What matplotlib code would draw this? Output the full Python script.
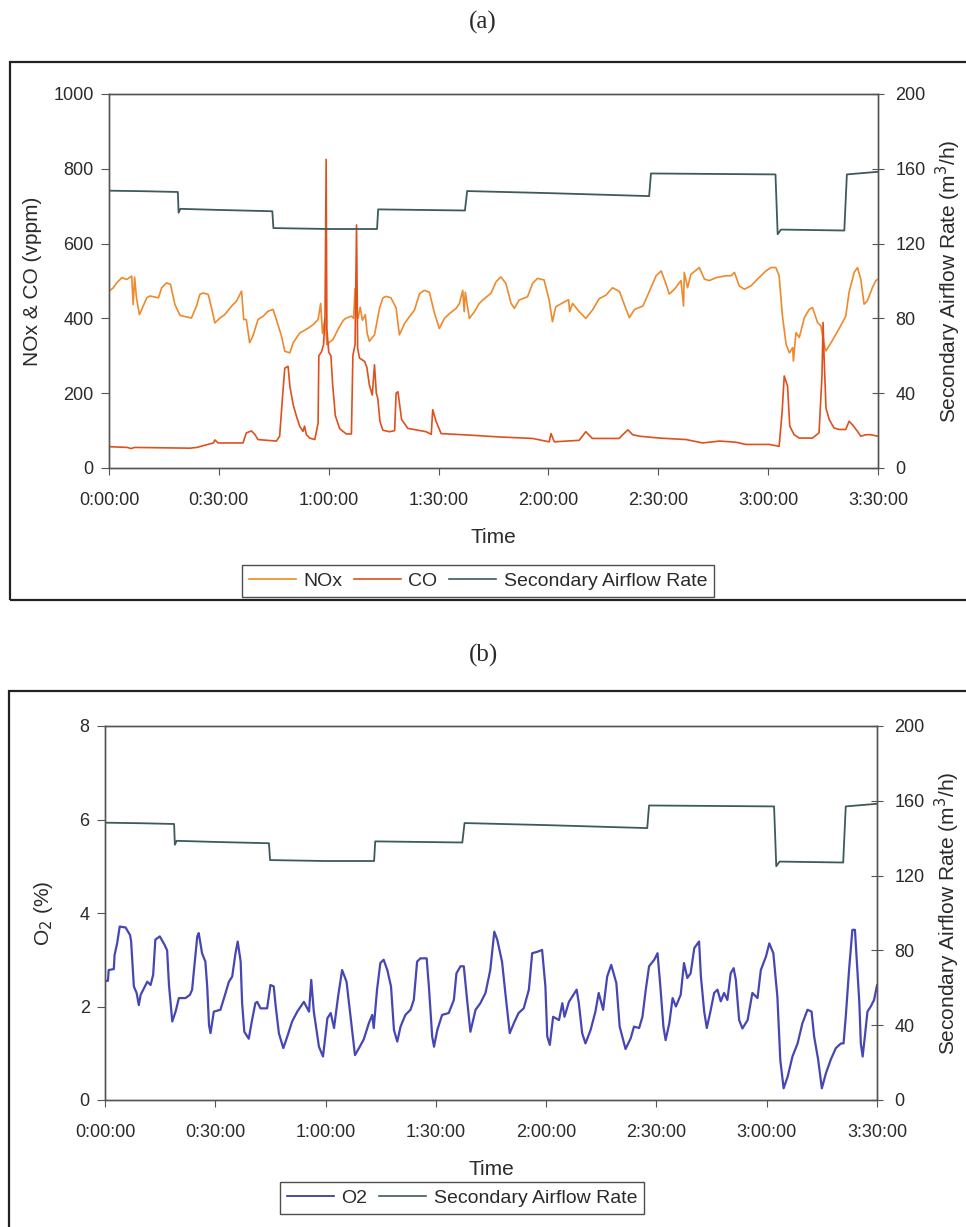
import numpy as np
import matplotlib
matplotlib.use("Agg")
import matplotlib.pyplot as plt
from matplotlib.patches import Rectangle
from matplotlib.lines import Line2D

plt.rcParams['font.family'] = ['Liberation Sans', 'DejaVu Sans']

# time in minutes from start
nox = [(0, 473), (1.2, 482), (2.1, 495), (3.5, 509), (4.8, 504), (6.2, 513), (6.6, 437), (7.0, 510),
       (7.5, 455), (8.3, 410), (8.9, 423), (10.3, 455), (11.2, 460), (13.5, 455), (14.4, 482), (15.7, 495),
       (16.8, 491), (18.0, 437), (19.4, 408), (21.2, 404), (22.5, 401), (23.9, 433), (24.8, 464), (25.7, 468),
       (27.1, 464), (28.0, 428), (28.9, 388), (30.3, 401), (31.6, 410), (33.5, 433), (34.8, 446), (36.2, 473),
       (36.8, 397), (37.5, 397), (38.4, 335), (39.3, 353), (40.7, 397), (42.1, 406), (43.4, 419), (44.8, 424),
       (45.7, 397), (47.1, 353), (48.0, 312), (49.4, 308), (50.3, 335), (52.1, 361), (54.4, 374), (55.7, 383),
       (57.1, 397), (57.8, 440), (58.3, 360), (59.0, 400), (59.5, 330), (60.3, 337), (61.2, 344), (62.5, 370),
       (64.0, 395), (64.8, 401), (66.2, 406), (66.8, 400), (67.2, 480), (67.5, 420), (68.0, 400), (68.6, 430),
       (69.2, 395), (70.0, 410), (70.5, 360), (71.1, 339), (72.5, 356), (73.9, 428), (74.8, 455), (75.7, 459),
       (77.0, 455), (78.4, 428), (79.3, 356), (80.7, 386), (82.0, 404), (83.4, 422), (84.8, 466), (86.1, 475),
       (87.5, 470), (88.9, 413), (90.2, 373), (91.6, 400), (93.0, 413), (94.8, 427), (95.7, 440), (96.6, 475),
       (97.0, 418), (97.3, 470), (98.4, 400), (99.8, 418), (101.1, 440), (102.5, 453), (104.3, 467), (105.7, 498),
       (107.0, 511), (108.4, 493), (109.8, 440), (110.7, 427), (112.0, 449), (114.3, 458), (115.7, 494),
       (117.0, 507), (118.8, 503), (120.2, 449), (121.1, 391), (122.0, 431), (124.3, 444), (125.5, 450),
       (125.8, 418), (126.6, 440), (128.4, 418), (130.2, 400), (132.0, 422), (133.9, 453), (135.7, 462),
       (137.5, 482), (139.4, 472), (140.8, 435), (142.1, 402), (143.5, 424), (145.8, 433), (147.6, 473),
       (149.4, 514), (150.8, 527), (152.1, 492), (153.0, 465), (154.4, 478), (156.2, 501), (156.9, 433),
       (157.1, 523), (158.0, 482), (158.9, 518), (161.2, 536), (162.6, 505), (163.9, 501), (165.8, 509),
       (168.5, 514), (169.9, 514), (170.8, 523), (172.1, 487), (173.5, 478), (175.3, 487), (177.1, 505),
       (179.4, 527), (180.8, 536), (182.1, 536), (183.0, 514), (183.9, 407), (184.9, 331), (185.8, 308),
       (186.7, 322), (186.9, 286), (187.6, 362), (188.5, 349), (189.9, 402), (191.2, 424), (192.1, 429),
       (193.5, 389), (194.4, 380), (195.3, 330), (195.8, 313), (197.6, 342), (199.4, 373), (201.2, 406),
       (202.1, 470), (203.5, 523), (204.4, 536), (205.3, 505), (206.2, 438), (207.1, 447), (208.5, 483),
       (209.4, 501), (210, 505)]

co = [(0, 57), (5, 55), (6, 52), (7, 55), (22.1, 53), (24, 55), (28.5, 67), (28.9, 75), (29.8, 67),
      (36.6, 67), (37.5, 94), (38.9, 99), (39.8, 90), (40.7, 76), (45.7, 72), (46.6, 85), (47.4, 192),
      (48.0, 267), (48.9, 272), (49.4, 218), (50.3, 169), (51.2, 138), (52.1, 111), (53.0, 98), (53.4, 112),
      (53.9, 89), (54.8, 80), (56.2, 76), (57.1, 120), (57.3, 300), (58.0, 310), (58.6, 330), (59.0, 410),
      (59.3, 825), (59.5, 372), (60.0, 310), (60.6, 300), (61.1, 220), (61.5, 175), (61.8, 140), (63.0, 105),
      (64.8, 91), (66.2, 91), (66.6, 301), (67.2, 330), (67.6, 650), (67.9, 320), (68.4, 294), (69.8, 285),
      (70.4, 270), (71.1, 222), (71.9, 195), (72.5, 276), (73.0, 200), (73.4, 186), (74.0, 124), (74.8, 101),
      (76.6, 97), (78.0, 100), (78.4, 200), (78.9, 204), (79.9, 130), (81.6, 106), (86.6, 97), (88.0, 90),
      (88.4, 156), (89.3, 125), (90.7, 92), (98.4, 88), (106.6, 83), (115.7, 79), (120.2, 70), (120.7, 92),
      (121.6, 70), (128.4, 74), (130.2, 97), (132.0, 79), (139.3, 79), (140.3, 89), (141.7, 102), (143.0, 89),
      (144.9, 85), (150.3, 80), (157.6, 76), (162.1, 67), (166.7, 72), (171.2, 69), (173.9, 63), (180.3, 63),
      (183.0, 58), (183.8, 147), (184.4, 246), (185.3, 219), (185.9, 112), (187.1, 89), (188.5, 80),
      (192.1, 80), (193.9, 94), (194.7, 246), (195.0, 389), (195.3, 290), (195.8, 160), (196.7, 129),
      (198.0, 107), (199.4, 103), (201.2, 103), (202.1, 125), (203.0, 116), (204.4, 98), (205.3, 85),
      (206.7, 89), (208.0, 89), (210, 85)]

airflow = [(0, 148.3), (10, 148), (18.8, 147.6), (19.0, 136.5), (19.5, 138.6), (30, 138), (44.6, 137.3),
           (44.9, 128.3), (60, 127.8), (73.2, 127.8), (73.5, 138.3), (97.2, 137.7), (97.8, 148.1),
           (120, 147), (147.5, 145.4), (148, 157.5), (182, 157), (182.6, 125), (183.5, 127.5),
           (200.8, 127), (201.5, 157), (210, 158.4)]

o2 = [(0, 2.55), (0.8, 2.55), (1.0, 2.78), (2.4, 2.8), (2.6, 3.1), (3.3, 3.35), (4.0, 3.71), (5.6, 3.69),
      (6.8, 3.53), (7.1, 3.4), (7.85, 2.43), (8.6, 2.29), (9.2, 2.03), (9.7, 2.25), (11.5, 2.53), (12.4, 2.46),
      (13.1, 2.68), (13.7, 3.43), (14.9, 3.5), (16.2, 3.32), (16.9, 3.2), (17.4, 2.46), (18.3, 1.68),
      (19.2, 1.89), (20.1, 2.18), (21.9, 2.18), (23.1, 2.25), (23.7, 2.36), (24.2, 2.78), (25.1, 3.5),
      (25.5, 3.57), (26.4, 3.14), (27.3, 2.96), (27.8, 2.43), (28.3, 1.6), (28.7, 1.43), (29.6, 1.89),
      (31.4, 1.93), (32.8, 2.29), (33.7, 2.53), (34.6, 2.64), (35.5, 3.14), (36.1, 3.39), (36.9, 2.96),
      (37.3, 2.07), (37.9, 1.46), (39.1, 1.31), (40.0, 1.71), (40.9, 2.07), (41.4, 2.10), (42.3, 1.96),
      (44.1, 1.96), (45.0, 2.46), (45.9, 2.43), (46.4, 2.03), (47.3, 1.43), (48.5, 1.11), (49.6, 1.36),
      (50.9, 1.68), (52.3, 1.89), (54.1, 2.10), (55.5, 1.89), (56.1, 2.57), (56.8, 1.89), (58.2, 1.14),
      (59.3, 0.93), (60.5, 1.75), (61.4, 1.86), (62.3, 1.54), (63.4, 2.21), (64.5, 2.78), (65.7, 2.53),
      (66.8, 1.78), (68.0, 0.96), (69.1, 1.11), (70.4, 1.3), (71.8, 1.65), (72.7, 1.82), (73.1, 1.54),
      (74.0, 2.36), (74.9, 2.93), (75.8, 3.0), (76.8, 2.78), (77.8, 2.43), (78.6, 1.50), (79.5, 1.25),
      (80.4, 1.57), (81.7, 1.82), (83.1, 1.93), (84.0, 2.14), (84.9, 2.96), (85.8, 3.03), (87.5, 3.03),
      (88.1, 2.43), (89.0, 1.36), (89.5, 1.14), (90.4, 1.50), (91.7, 1.82), (93.5, 1.86), (94.9, 2.14),
      (95.6, 2.71), (96.7, 2.86), (97.6, 2.86), (98.5, 2.14), (99.4, 1.46), (100.8, 1.93), (102.1, 2.07),
      (103.5, 2.29), (104.8, 2.78), (105.9, 3.60), (106.7, 3.43), (108.0, 2.96), (108.9, 2.29), (110.1, 1.43),
      (111.2, 1.64), (112.5, 1.86), (113.9, 1.96), (115.3, 2.36), (116.2, 3.14), (117.6, 3.17), (118.9, 3.21),
      (119.8, 2.43), (120.3, 1.36), (121.0, 1.18), (121.9, 1.78), (123.5, 1.71), (124.4, 2.07), (125.0, 1.78),
      (126.2, 2.10), (127.1, 2.21), (128.3, 2.36), (128.9, 2.07), (129.8, 1.43), (130.7, 1.21), (132.1, 1.50),
      (133.4, 1.89), (134.3, 2.29), (135.5, 1.93), (136.6, 2.64), (137.7, 2.89), (139.1, 2.50), (140.0, 1.57),
      (141.6, 1.09), (143.0, 1.32), (143.9, 1.57), (145.3, 1.54), (146.2, 1.78), (147.1, 2.36), (148.0, 2.86),
      (149.4, 3.0), (150.3, 3.14), (151.0, 2.50), (151.9, 1.57), (152.5, 1.28), (153.5, 1.64), (154.4, 2.18),
      (155.3, 2.0), (156.6, 2.25), (157.5, 2.93), (158.4, 2.61), (159.3, 2.71), (160.3, 3.25), (161.6, 3.39),
      (162.1, 2.64), (163.0, 1.89), (163.7, 1.54), (164.6, 1.86), (165.7, 2.29), (166.6, 2.36), (167.5, 2.11),
      (168.4, 2.29), (169.3, 2.14), (170.2, 2.71), (171.0, 2.82), (171.6, 2.57), (172.5, 1.71), (173.4, 1.53),
      (174.8, 1.71), (176.1, 2.29), (177.5, 2.18), (178.4, 2.78), (179.8, 3.07), (180.7, 3.35), (181.8, 3.14),
      (182.9, 2.21), (183.7, 0.85), (184.6, 0.25), (185.7, 0.50), (187.0, 0.93), (188.4, 1.21), (189.7, 1.64),
      (191.1, 1.93), (192.2, 1.89), (192.9, 1.36), (194.0, 0.86), (195.0, 0.25), (196.1, 0.57), (197.4, 0.86),
      (198.8, 1.11), (200.2, 1.21), (200.9, 1.21), (201.5, 1.78), (202.4, 2.78), (203.3, 3.64), (204.0, 3.64),
      (204.7, 2.71), (205.2, 2.07), (205.6, 1.21), (206.1, 0.93), (206.7, 1.36), (207.4, 1.89), (208.3, 2.0),
      (209.2, 2.14), (210, 2.45)]

time_ticks = [0, 30, 60, 90, 120, 150, 180, 210]
time_labels = ['0:00:00', '0:30:00', '1:00:00', '1:30:00', '2:00:00', '2:30:00', '3:00:00', '3:30:00']

nox = np.array(nox)
co = np.array(co)
airflow = np.array(airflow)
o2 = np.array(o2)

c_nox = '#EE8A2C'
c_co = '#E0501C'
c_air = '#3E5A5A'
c_o2 = '#4646B4'
c_axis = '#555555'
c_text = '#2A2A2A'

fig = plt.figure(figsize=(9.66, 12.27), dpi=100)
W, H = 966, 1227


def style_axes(ax, ax2):
    for a in (ax, ax2):
        for s in a.spines.values():
            s.set_color(c_axis)
            s.set_linewidth(1.0)
    ax.set_xlim(0, 210)
    ax.set_xticks(time_ticks)
    ax.set_xticklabels(time_labels)
    ax.tick_params(axis='x', direction='out', length=5, pad=12, labelsize=13, colors=c_axis, labelcolor=c_text)
    ax.tick_params(axis='y', direction='out', length=6, pad=5, labelsize=13, colors=c_axis, labelcolor=c_text)
    ax2.tick_params(axis='y', direction='inout', length=9, pad=8, labelsize=13, colors=c_axis, labelcolor=c_text)
    ax2.set_ylim(0, 200)
    ax2.set_yticks([0, 40, 80, 120, 160, 200])
    ax2.set_ylabel('Secondary Airflow Rate (m$^3$/h)', fontsize=15, color=c_text, labelpad=6)
    ax.set_xlabel('Time', fontsize=15, color=c_text, labelpad=14)


def add_legend(ax, handles, labels, center):
    leg = ax.legend(handles, labels, ncol=len(labels), loc='center',
                    bbox_to_anchor=(center[0] / W, 1 - center[1] / H), bbox_transform=fig.transFigure,
                    fontsize=14, frameon=True, fancybox=False, handlelength=2.4, handletextpad=0.4,
                    columnspacing=0.6, borderpad=0.35)
    leg.get_frame().set_edgecolor('#222222')
    leg.get_frame().set_linewidth(1.0)
    for t in leg.get_texts():
        t.set_color(c_text)


# ---------- panel (a) ----------
ax = fig.add_axes([109 / W, 1 - 468 / H, 769 / W, 374 / H])
ax2 = ax.twinx()
ax.plot(nox[:, 0], nox[:, 1], color=c_nox, lw=1.2, zorder=3)
ax.plot(co[:, 0], co[:, 1], color=c_co, lw=1.2, zorder=4)
ax2.plot(airflow[:, 0], airflow[:, 1], color=c_air, lw=1.3)
ax.set_ylim(0, 1000)
ax.set_yticks([0, 200, 400, 600, 800, 1000])
ax.set_ylabel('NOx & CO (vppm)', fontsize=15, color=c_text, labelpad=8)
style_axes(ax, ax2)
add_legend(ax, [Line2D([], [], color=c_nox, lw=1.2), Line2D([], [], color=c_co, lw=1.2),
                Line2D([], [], color=c_air, lw=1.2)],
           ['NOx', 'CO', 'Secondary Airflow Rate'], (478, 581))

# ---------- panel (b) ----------
bx = fig.add_axes([105 / W, 1 - 1100 / H, 772 / W, 374 / H])
bx2 = bx.twinx()
bx.plot(o2[:, 0], o2[:, 1], color=c_o2, lw=1.6, zorder=3)
bx2.plot(airflow[:, 0], airflow[:, 1], color=c_air, lw=1.3)
bx.set_ylim(0, 8)
bx.set_yticks([0, 2, 4, 6, 8])
bx.set_ylabel('O$_2$ (%)', fontsize=15, color=c_text, labelpad=18)
style_axes(bx, bx2)
add_legend(bx, [Line2D([], [], color='#2E2E8A', lw=1.2), Line2D([], [], color=c_air, lw=1.2)],
           ['O2', 'Secondary Airflow Rate'], (462, 1198))

# panel frames and captions
fig.add_artist(Rectangle((10 / W, 1 - 600 / H), 1.2, 538 / H, transform=fig.transFigure,
                         fill=False, edgecolor='#222222', lw=1.6))
fig.add_artist(Rectangle((9 / W, -0.1), 1.2, 536 / H + 0.1, transform=fig.transFigure,
                         fill=False, edgecolor='#222222', lw=1.6))
fig.text(483 / W, 1 - 22 / H, '(a)', ha='center', va='center', fontsize=18,
         family='Liberation Serif', color=c_text)
fig.text(483 / W, 1 - 655 / H, '(b)', ha='center', va='center', fontsize=18,
         family='Liberation Serif', color=c_text)

fig.savefig('out.png', dpi=100)
